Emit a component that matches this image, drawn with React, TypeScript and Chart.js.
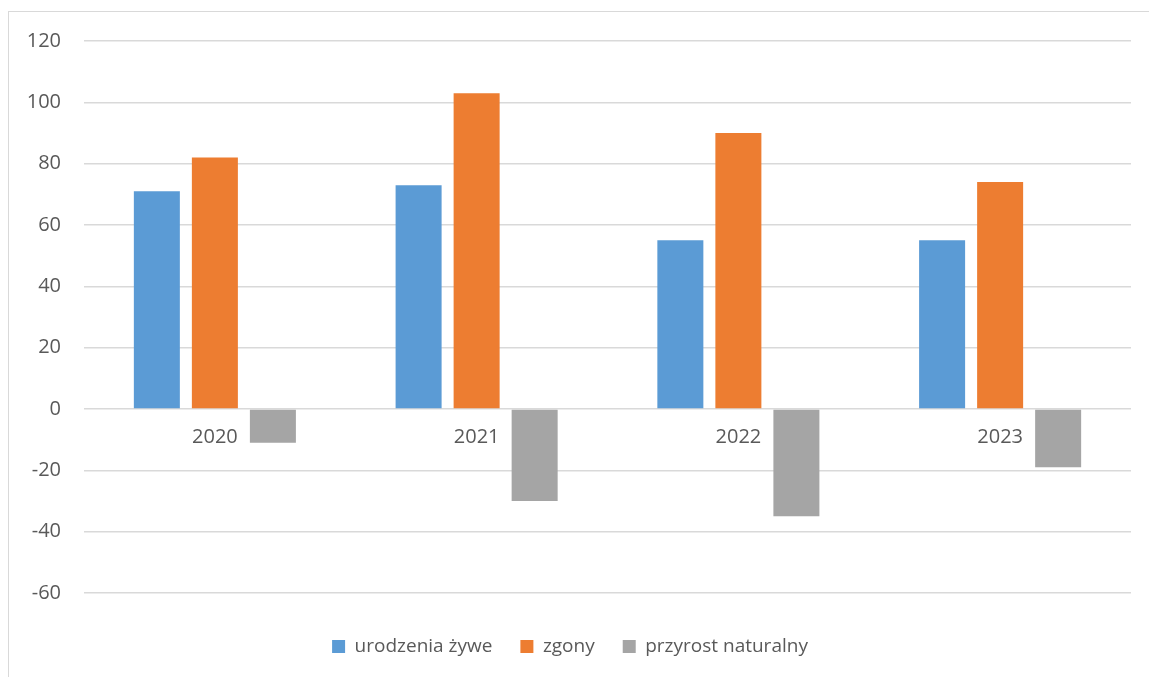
import React, { useEffect, useRef } from "react";
import { Chart, registerables } from "chart.js";

Chart.register(...registerables);

const years = ["2020", "2021", "2022", "2023"];
const births = [71, 73, 55, 55];
const deaths = [82, 103, 90, 74];
const naturalGrowth = [-11, -30, -35, -19];
const seriesNames = ["urodzenia żywe", "zgony", "przyrost naturalny"];
const yMin = -60;
const yMax = 120;
const yStep = 20;

const FONT = "'Open Sans', sans-serif";
const TEXT = "#595959";

export default function App() {
  const ref = useRef<HTMLCanvasElement>(null);

  useEffect(() => {
    if (!ref.current) return;
    const chart = new Chart(ref.current, {
      type: "bar",
      data: {
        labels: years,
        datasets: [
          { label: seriesNames[0], data: births, backgroundColor: "#5b9bd5" },
          { label: seriesNames[1], data: deaths, backgroundColor: "#ed7d31" },
          { label: seriesNames[2], data: naturalGrowth, backgroundColor: "#a5a5a5" },
        ],
      },
      options: {
        responsive: false,
        animation: false,
        layout: { padding: { top: 22, right: 18, bottom: 11, left: 0 } },
        datasets: {
          bar: { categoryPercentage: 0.665, barPercentage: 0.793, borderWidth: 0 },
        },
        plugins: {
          tooltip: { enabled: false },
          legend: {
            position: "bottom",
            title: { display: true, text: "", font: { size: 10 }, padding: { top: 0, bottom: 4 } },
            labels: {
              boxWidth: 13,
              boxHeight: 13,
              padding: 28,
              color: TEXT,
              font: { family: FONT, size: 19 },
            },
          },
        },
        scales: {
          x: {
            type: "category",
            position: { y: 0 } as any,
            grid: { display: false, drawTicks: false },
            border: { display: false },
            ticks: { color: TEXT, font: { family: FONT, size: 20 }, padding: 16 },
          },
          y: {
            min: yMin,
            max: yMax,
            afterFit: (s: any) => {
              s.width = 75;
            },
            ticks: { stepSize: yStep, color: TEXT, font: { family: FONT, size: 20 }, padding: 23 },
            grid: { color: "#d9d9d9", lineWidth: 1.5, drawTicks: false },
            border: { display: false },
          },
        },
      },
    });
    return () => chart.destroy();
  }, []);

  return (
    <div
      style={{
        position: "fixed",
        left: 8,
        top: 11,
        width: 1141,
        height: 666,
        borderTop: "1px solid #d9d9d9",
        borderLeft: "1px solid #d9d9d9",
        overflow: "hidden",
        background: "#fff",
        boxSizing: "border-box",
      }}
    >
      <canvas
        ref={ref}
        width={1140}
        height={671}
        style={{ display: "block", position: "absolute", left: 0, top: -6, width: 1140, height: 671 }}
      />
    </div>
  );
}
